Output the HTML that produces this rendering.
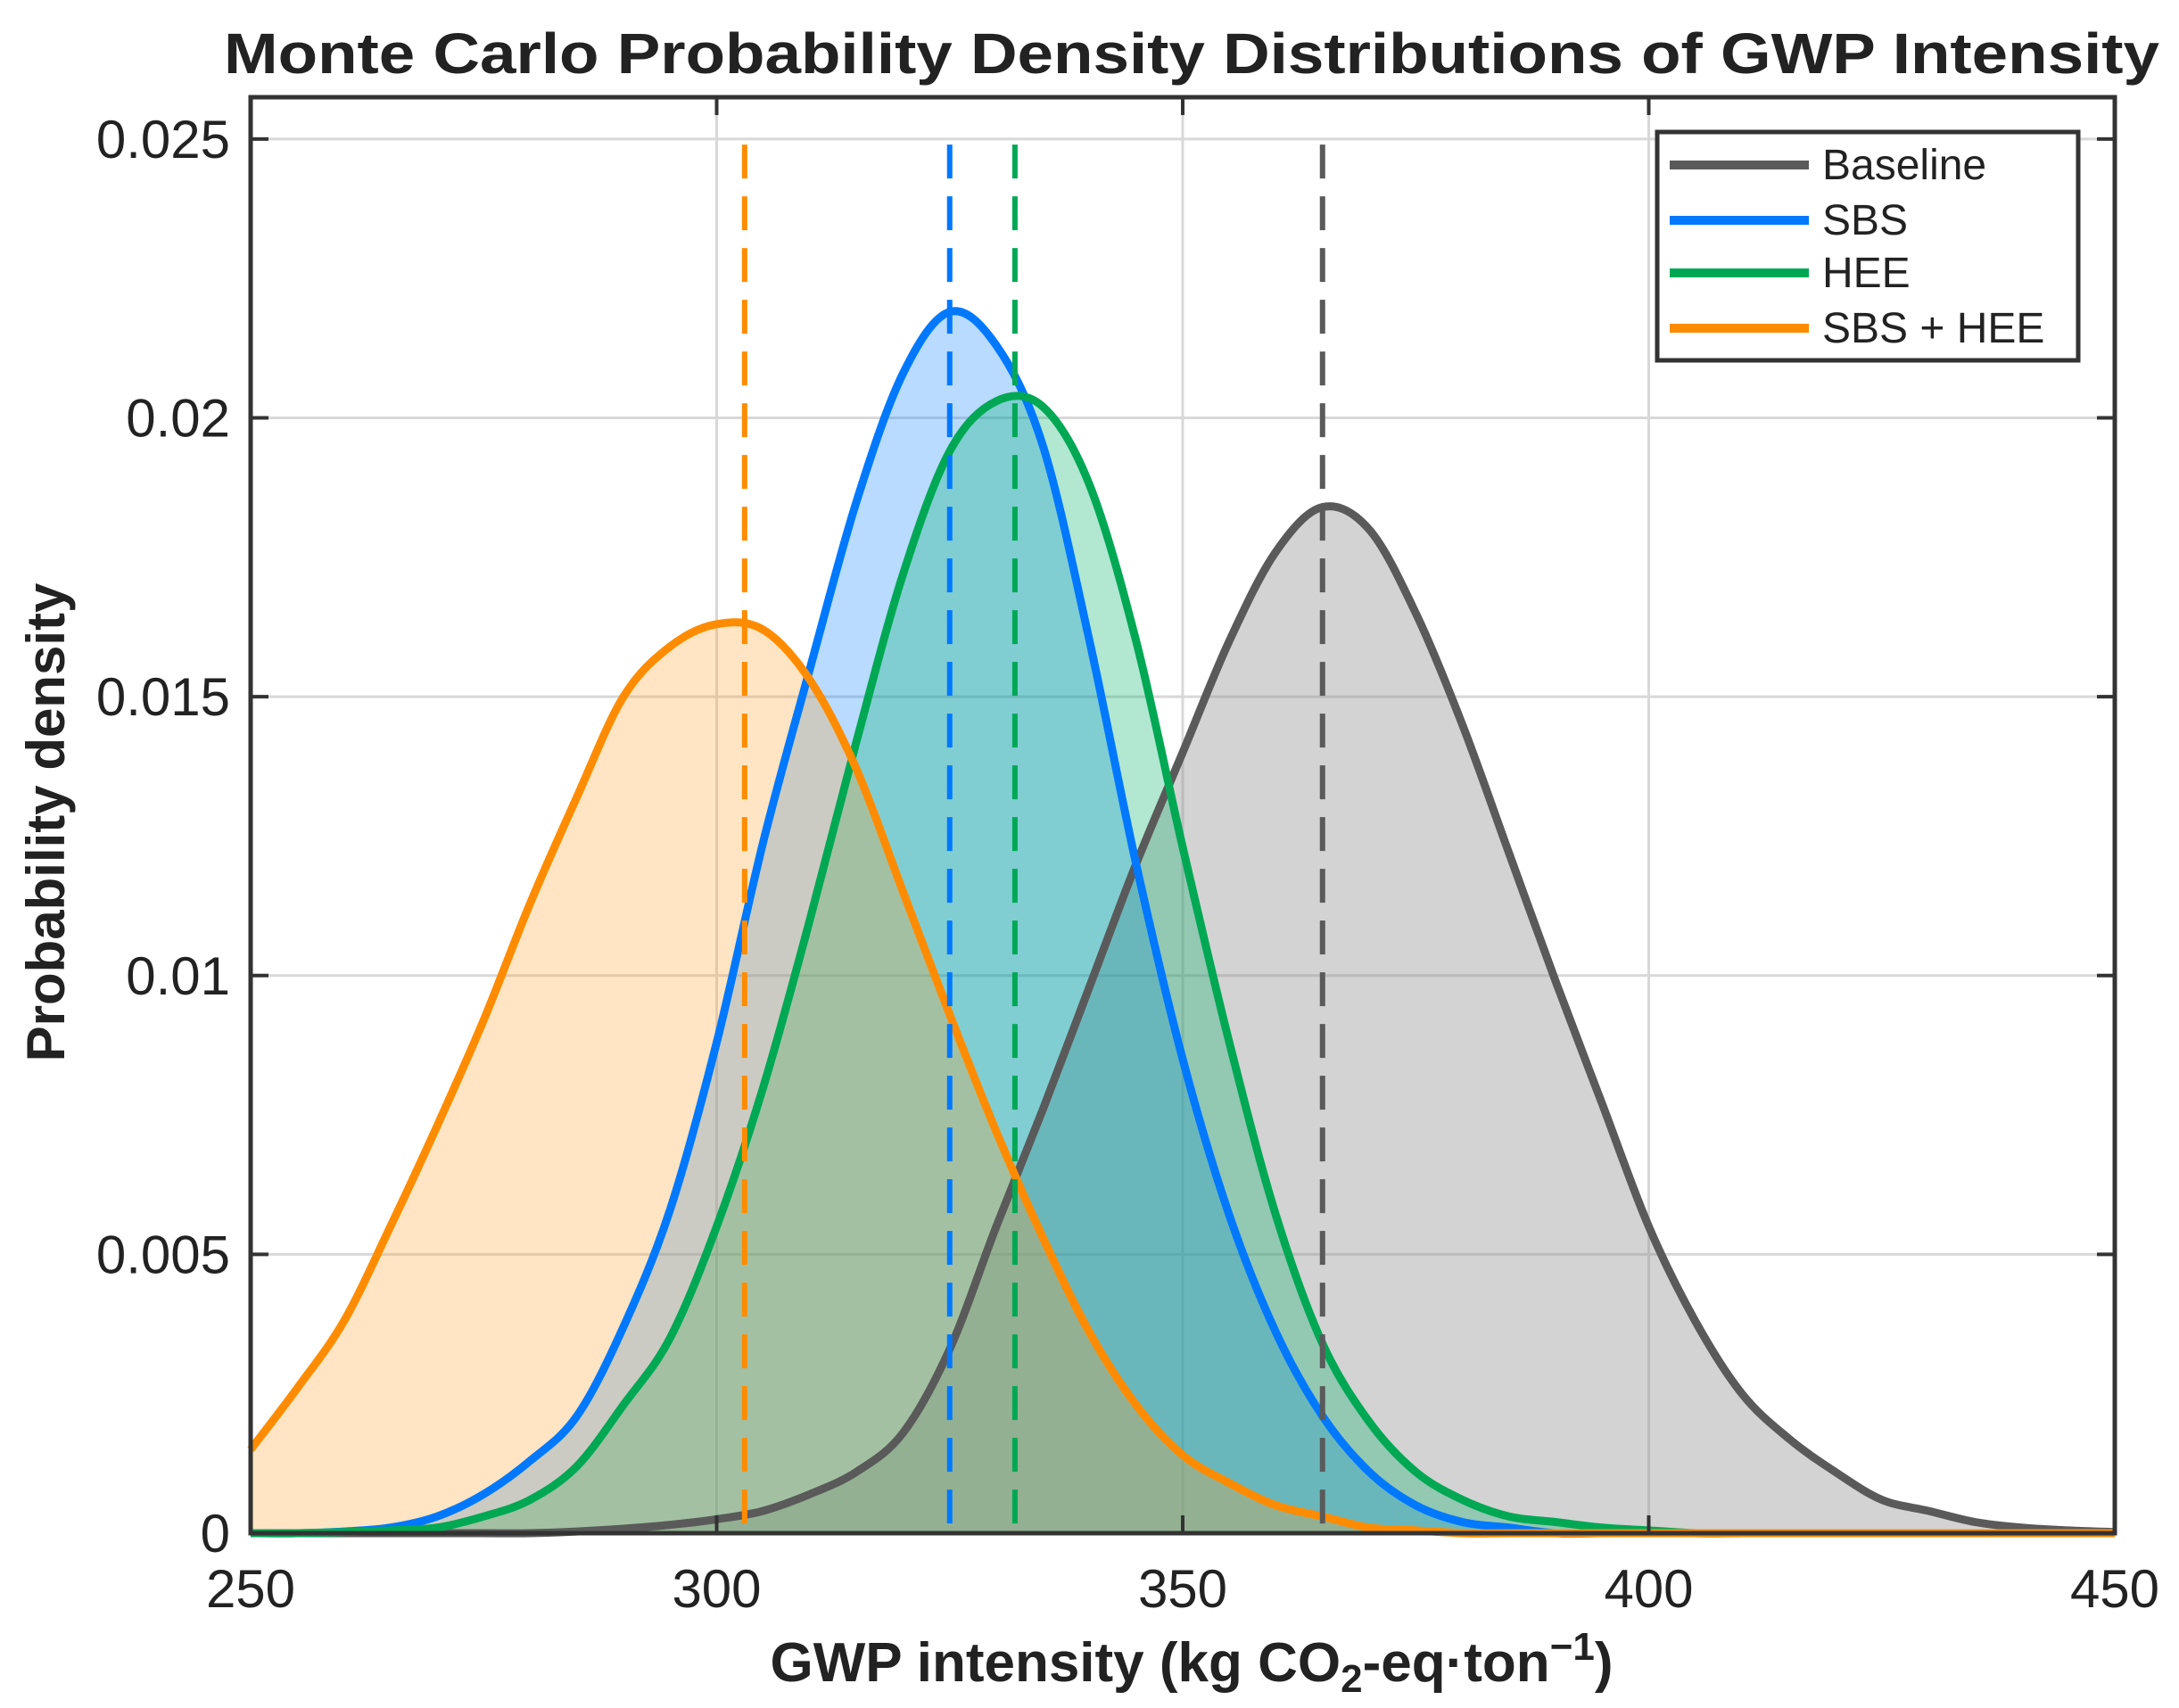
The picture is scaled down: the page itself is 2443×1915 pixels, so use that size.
<!DOCTYPE html>
<html><head><meta charset="utf-8"><style>
html,body{margin:0;padding:0;background:#fff;}
svg{display:block;font-family:"Liberation Sans",sans-serif;}
</style></head><body>
<svg id="chart" width="2443" height="1915" viewBox="0 0 2443 1915" xmlns="http://www.w3.org/2000/svg">
<text x="1336" y="82" text-anchor="middle" font-size="64" font-weight="bold" fill="#222" textLength="2170" lengthAdjust="spacingAndGlyphs">Monte Carlo Probability Density Distributions of GWP Intensity</text>
<g id="grid"></g>
<g id="fills"></g>
<g id="lines"></g>
<g id="means"></g>
<g id="axes"></g>
<text x="1336" y="1885" text-anchor="middle" font-size="62" font-weight="bold" fill="#222">GWP intensity (kg CO<tspan font-size="44" dy="12">2</tspan><tspan dy="-12">-eq·ton</tspan><tspan font-size="44" dy="-24">−1</tspan><tspan dy="24">)</tspan></text>
<text transform="translate(72,922) rotate(-90)" text-anchor="middle" font-size="60" font-weight="bold" fill="#222">Probability density</text>
<g>
<rect x="1858" y="148" width="472" height="256" fill="#fff" stroke="#333" stroke-width="5"/>
<g><line x1="1872" y1="185" x2="2028" y2="185" stroke="#5a5a5a" stroke-width="10"/><text x="2043" y="201" font-size="48" fill="#222">Baseline</text></g>
<g><line x1="1872" y1="247" x2="2028" y2="247" stroke="#0078ff" stroke-width="10"/><text x="2043" y="263" font-size="48" fill="#222">SBS</text></g>
<g><line x1="1872" y1="306" x2="2028" y2="306" stroke="#00a854" stroke-width="10"/><text x="2043" y="322" font-size="48" fill="#222">HEE</text></g>
<g><line x1="1872" y1="368" x2="2028" y2="368" stroke="#ff8c00" stroke-width="10"/><text x="2043" y="384" font-size="48" fill="#222">SBS + HEE</text></g>
</g>
</svg>
<script>
const xStart = 250, xStep = 5;
const xTicks = [250, 300, 350, 400, 450];
const yTicks = [0, 0.005, 0.01, 0.015, 0.02, 0.025];
const yTickLabels = ["0", "0.005", "0.01", "0.015", "0.02", "0.025"];
const baseline = [0,0,0,0,0,0,0,0.00003,0.00008,0.00015,0.00025,0.0004,0.0007,0.0011,0.0018,0.0033,0.0055,0.0076,0.0098,0.0120,0.0140,0.0160,0.0176,0.0184,0.0180,0.0165,0.0145,0.0122,0.0099,0.0077,0.0055,0.0038,0.0025,0.0017,0.0011,0.0006,0.0004,0.0002,0.0001,0.00005,0.00002];
const sbs = [0,0,0.00003,0.0001,0.0003,0.0007,0.0013,0.0021,0.0037,0.0058,0.0088,0.0124,0.0155,0.0185,0.0208,0.0219,0.0213,0.0195,0.0160,0.0120,0.0085,0.0057,0.0036,0.0021,0.0011,0.0005,0.0002,0.0001,0,0,0,0,0,0,0,0,0,0,0,0,0];
const hee = [0,0,0.00002,0.00005,0.0001,0.0003,0.0006,0.0012,0.0023,0.0035,0.0055,0.0080,0.0110,0.0142,0.0172,0.0194,0.0203,0.0202,0.0188,0.0160,0.0123,0.0088,0.0057,0.0034,0.0020,0.0011,0.0006,0.0003,0.0002,0.0001,0.00005,0,0,0,0,0,0,0,0,0,0];
const sbsHee = [0.0015,0.0026,0.0038,0.0055,0.0073,0.0092,0.0113,0.0132,0.0150,0.0159,0.0163,0.0162,0.0153,0.0137,0.0115,0.0093,0.0072,0.0053,0.0036,0.0023,0.0014,0.0009,0.0005,0.0003,0.0001,0.00005,0,0,0,0,0,0,0,0,0,0,0,0,0,0,0];
const means = [365, 325, 332, 303];
const meanTop = 0.0249;

const L=281,R=2371,T=109,B=1719;
const sx = v => L + (v-250)/(450-250)*(R-L);
const sy = v => B - v/0.02575*(B-T);
const NS="http://www.w3.org/2000/svg";
function mk(tag, attrs, parent){const e=document.createElementNS(NS,tag);for(const k in attrs)e.setAttribute(k,attrs[k]);parent.appendChild(e);return e;}
const grid=document.getElementById('grid'),fills=document.getElementById('fills'),lines=document.getElementById('lines'),meansG=document.getElementById('means'),axes=document.getElementById('axes');
mk('rect',{x:L,y:T,width:R-L,height:B-T,fill:'#fff'},grid);
xTicks.forEach(t=>{const g=mk('line',{x1:sx(t),y1:T,x2:sx(t),y2:B,stroke:'#d8d8d8','stroke-width':3},grid);

});
yTicks.forEach(t=>{const g=mk('line',{x1:L,y1:sy(t),x2:R,y2:sy(t),stroke:'#d8d8d8','stroke-width':3},grid);

});
const series=[
 {d:baseline,fill:'rgba(140,140,140,0.38)',stroke:'#5a5a5a',name:'baseline'},
 {d:sbs,fill:'rgba(0,125,255,0.28)',stroke:'#0078ff',name:'sbs'},
 {d:hee,fill:'rgba(0,175,105,0.3)',stroke:'#00a854',name:'hee'},
 {d:sbsHee,fill:'rgba(255,160,40,0.28)',stroke:'#ff8c00',name:'sbs-hee'}];
function pathFor(d){
 const p=d.map((v,i)=>[sx(xStart+i*xStep),sy(v)]);
 let s='M'+p[0][0]+','+p[0][1];
 for(let i=0;i<p.length-1;i++){const p0=p[i-1]||p[i],p1=p[i],p2=p[i+1],p3=p[i+2]||p2;
  s+=' C'+(p1[0]+(p2[0]-p0[0])/6)+','+(p1[1]+(p2[1]-p0[1])/6)+' '+(p2[0]-(p3[0]-p1[0])/6)+','+(p2[1]-(p3[1]-p1[1])/6)+' '+p2[0]+','+p2[1];}
 return s;}
series.forEach(s=>{const a=mk('path',{d:pathFor(s.d)+' L'+sx(450)+','+B+' L'+sx(250)+','+B+' Z',fill:s.fill},fills);

});
series.forEach(s=>{const l=mk('path',{d:pathFor(s.d),fill:'none',stroke:s.stroke,'stroke-width':9,'stroke-linejoin':'round'},lines);

});
means.forEach((m,i)=>{const l=mk('line',{x1:sx(m),y1:sy(meanTop),x2:sx(m),y2:B,stroke:series[i].stroke,'stroke-width':6,'stroke-dasharray':'38,20'},meansG);

});
mk('rect',{x:L,y:T,width:R-L,height:B-T,fill:'none',stroke:'#333','stroke-width':5},axes);
xTicks.forEach(t=>{mk('line',{x1:sx(t),y1:B,x2:sx(t),y2:B-20,stroke:'#333','stroke-width':4},axes);mk('line',{x1:sx(t),y1:T,x2:sx(t),y2:T+20,stroke:'#333','stroke-width':4},axes);
const tx=mk('text',{x:sx(t),y:1802,'text-anchor':'middle','font-size':60,fill:'#222'},axes);tx.textContent=t;

});
yTicks.forEach((t,i)=>{mk('line',{x1:L,y1:sy(t),x2:L+20,y2:sy(t),stroke:'#333','stroke-width':4},axes);mk('line',{x1:R,y1:sy(t),x2:R-20,y2:sy(t),stroke:'#333','stroke-width':4},axes);
const tx=mk('text',{x:258,y:sy(t)+21,'text-anchor':'end','font-size':60,fill:'#222'},axes);tx.textContent=yTickLabels[i];

});
</script>
</body></html>
